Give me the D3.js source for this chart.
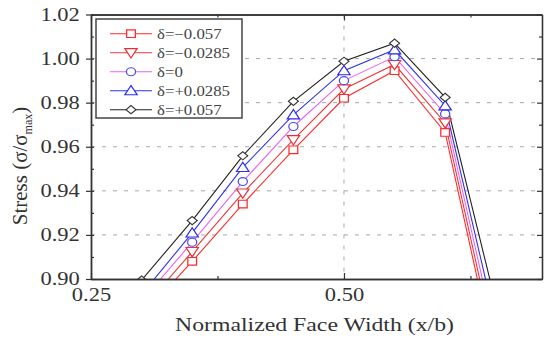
<!DOCTYPE html>
<html>
<head>
<meta charset="utf-8">
<script src="https://cdn.jsdelivr.net/npm/d3@7"></script>
<style>
  html, body { margin: 0; padding: 0; background: #fff; }
  svg { display: block; font-family: "Liberation Serif", "Times New Roman", serif; }
</style>
</head>
<body>
<div id="chart"></div>
<script>
// data
const xValues = [0.30, 0.35, 0.40, 0.45, 0.50, 0.55, 0.60, 0.65];
const deltaLabels = ["δ=−0.057", "δ=−0.0285", "δ=0", "δ=+0.0285", "δ=+0.057"];
const stressMinus057 = [0.883, 0.908, 0.934, 0.9586, 0.982, 0.9945, 0.9665, 0.862];
const stressMinus0285 = [0.886, 0.9124, 0.939, 0.9632, 0.9862, 0.9973, 0.9708, 0.867];
const stressZero = [0.890, 0.9167, 0.9442, 0.9692, 0.990, 1.0008, 0.9749, 0.873];
const stressPlus0285 = [0.893, 0.9209, 0.9506, 0.9745, 0.9945, 1.004, 0.9786, 0.880];
const stressPlus057 = [0.8995, 0.9265, 0.9559, 0.9806, 0.9988, 1.007, 0.9824, 0.889];
const yTicks = [0.90, 0.92, 0.94, 0.96, 0.98, 1.00, 1.02];
const yMinorTicks = [0.91, 0.93, 0.95, 0.97, 0.99, 1.01];
const xTicks = [0.25, 0.50];
const xMinorTicks = [0.375, 0.625];

const W = 544, H = 341;
const PLOT = { left: 91, right: 542, top: 14.5, bottom: 279 };
const SX = 1.25; // the source picture is stretched sideways

const seriesStyle = [
  { values: stressMinus057, line: "#ff2a2a", mark: "#ff2a2a", shape: "square", size: 58 },
  { values: stressMinus0285, line: "#e8383c", mark: "#e83038", shape: "down", size: 50 },
  { values: stressZero, line: "#f060f0", mark: "#4b4bf0", shape: "circle", size: 50 },
  { values: stressPlus0285, line: "#3030f0", mark: "#2a2af0", shape: "up", size: 50 },
  { values: stressPlus057, line: "#222222", mark: "#333333", shape: "diamond", size: 40 },
];

const svg = d3.select("#chart").append("svg").attr("width", W).attr("height", H);

const x = d3.scaleLinear().domain([0.25, 0.6957]).range([PLOT.left, PLOT.right]);
const y = d3.scaleLinear().domain([0.90, 1.02]).range([PLOT.bottom, PLOT.top]);

function symbolPath(shape, size) {
  if (shape === "up" || shape === "down") return d3.symbol(d3.symbolTriangle, size)();
  if (shape === "circle") return d3.symbol(d3.symbolCircle, size)();
  return d3.symbol(d3.symbolSquare, size)();
}

function markerTransform(shape, cx, cy) {
  if (shape === "diamond") return `translate(${cx},${cy}) scale(1.12,0.92) rotate(45)`;
  if (shape === "down") return `translate(${cx},${cy - 1}) scale(1.15,1) rotate(180)`;
  if (shape === "up") return `translate(${cx},${cy + 1}) scale(1.15,1)`;
  return `translate(${cx},${cy}) scale(1.15,1)`;
}

// grid
svg.append("g")
  .selectAll("line.hgrid")
  .data(yTicks.slice(1, -1))
  .join("line")
  .attr("x1", PLOT.left).attr("x2", PLOT.right)
  .attr("y1", (d) => y(d)).attr("y2", (d) => y(d))
  .attr("stroke", "#a8a8a8").attr("stroke-width", 1).attr("stroke-dasharray", "4 7");

svg.append("line")
  .attr("x1", x(0.5)).attr("x2", x(0.5))
  .attr("y1", PLOT.top).attr("y2", PLOT.bottom)
  .attr("stroke", "#a8a8a8").attr("stroke-width", 1).attr("stroke-dasharray", "4 7");

// data
svg.append("defs").append("clipPath").attr("id", "plot-clip")
  .append("rect")
  .attr("x", PLOT.left).attr("y", PLOT.top)
  .attr("width", PLOT.right - PLOT.left).attr("height", PLOT.bottom - PLOT.top);

const dataLayer = svg.append("g").attr("clip-path", "url(#plot-clip)");
const line = d3.line().x((d) => x(d[0])).y((d) => y(d[1]));

seriesStyle.forEach((s) => {
  const pts = xValues.map((xv, i) => [xv, s.values[i]]);
  dataLayer.append("path")
    .datum(pts)
    .attr("fill", "none")
    .attr("stroke", s.line)
    .attr("stroke-width", 1.1)
    .attr("d", line);
});

seriesStyle.forEach((s) => {
  const pts = xValues.map((xv, i) => [xv, s.values[i]]);
  dataLayer.append("g")
    .selectAll("path")
    .data(pts)
    .join("path")
    .attr("d", symbolPath(s.shape, s.size))
    .attr("transform", (d) => markerTransform(s.shape, x(d[0]), y(d[1])))
    .attr("fill", "#fff")
    .attr("stroke", s.mark)
    .attr("stroke-width", 1.1);
});

// axes
function styleAxis(g) {
  g.select(".domain").attr("stroke", "#333").attr("stroke-width", 1.3);
  g.selectAll(".tick line").attr("stroke", "#333").attr("stroke-width", 1.2);
}

const leftAxis = svg.append("g")
  .attr("transform", `translate(${PLOT.left},0)`)
  .call(d3.axisLeft(y).tickValues(yTicks).tickSize(5).tickSizeOuter(0).tickPadding(4).tickFormat(d3.format(".2f")))
  .call(styleAxis);
leftAxis.selectAll("text")
  .attr("font-size", 18)
  .attr("fill", "#333")
  .attr("font-family", "Liberation Serif, Times New Roman, serif")
  .attr("transform", `scale(${SX},1)`);

svg.append("g")
  .attr("transform", `translate(${PLOT.left},0)`)
  .call(d3.axisLeft(y).tickValues(yTicks).tickSize(-3).tickSizeOuter(0).tickFormat(""))
  .call(styleAxis);
svg.append("g")
  .attr("transform", `translate(${PLOT.left},0)`)
  .call(d3.axisLeft(y).tickValues(yMinorTicks).tickSize(-3).tickSizeOuter(0).tickFormat(""))
  .call(styleAxis);

svg.append("g")
  .attr("transform", `translate(${PLOT.right},0)`)
  .call(d3.axisRight(y).tickValues(yTicks).tickSize(-5).tickSizeOuter(0).tickFormat(""))
  .call(styleAxis);
svg.append("g")
  .attr("transform", `translate(${PLOT.right},0)`)
  .call(d3.axisRight(y).tickValues(yMinorTicks).tickSize(-3).tickSizeOuter(0).tickFormat(""))
  .call(styleAxis);

const bottomAxis = svg.append("g")
  .attr("transform", `translate(0,${PLOT.bottom})`)
  .call(d3.axisBottom(x).tickValues(xTicks).tickSize(-6).tickSizeOuter(0).tickPadding(9).tickFormat(d3.format(".2f")))
  .call(styleAxis);
bottomAxis.selectAll("text")
  .attr("font-size", 18)
  .attr("fill", "#333")
  .attr("font-family", "Liberation Serif, Times New Roman, serif")
  .attr("transform", `scale(${SX},1)`);
svg.append("g")
  .attr("transform", `translate(0,${PLOT.bottom})`)
  .call(d3.axisBottom(x).tickValues(xMinorTicks).tickSize(-3).tickSizeOuter(0).tickFormat(""))
  .call(styleAxis);

svg.append("g")
  .attr("transform", `translate(0,${PLOT.top})`)
  .call(d3.axisTop(x).tickValues(xTicks).tickSize(-6).tickSizeOuter(0).tickFormat(""))
  .call(styleAxis);
svg.append("g")
  .attr("transform", `translate(0,${PLOT.top})`)
  .call(d3.axisTop(x).tickValues(xMinorTicks).tickSize(-3).tickSizeOuter(0).tickFormat(""))
  .call(styleAxis);

// axis titles
svg.append("text")
  .attr("transform", `translate(${(PLOT.left + PLOT.right) / 2 - 2},331) scale(${SX},1)`)
  .attr("text-anchor", "middle")
  .attr("font-size", 19)
  .attr("fill", "#333")
  .text("Normalized Face Width (x/b)");

const yTitle = svg.append("text")
  .attr("transform", "translate(27,166) rotate(-90)")
  .attr("text-anchor", "middle")
  .attr("font-size", 21)
  .attr("fill", "#333");
yTitle.append("tspan").text("Stress (σ/σ");
yTitle.append("tspan").attr("font-size", 12).attr("dy", 5).text("max");
yTitle.append("tspan").attr("dy", -5).text(")");

// legend
const legend = svg.append("g");
legend.append("rect")
  .attr("x", 96).attr("y", 19).attr("width", 146).attr("height", 99)
  .attr("fill", "#fff").attr("stroke", "#444").attr("stroke-width", 1.5);

seriesStyle.forEach((s, i) => {
  const ly = 33.7 + i * 19;
  const row = legend.append("g");
  row.append("line")
    .attr("x1", 110).attr("x2", 152).attr("y1", ly).attr("y2", ly)
    .attr("stroke", s.line).attr("stroke-width", 1.1);
  row.append("path")
    .attr("d", symbolPath(s.shape, s.size))
    .attr("transform", markerTransform(s.shape, 131, ly))
    .attr("fill", "#fff").attr("stroke", s.mark).attr("stroke-width", 1.1);
  row.append("text")
    .attr("transform", `translate(157,${ly + 5}) scale(1.2,1)`)
    .attr("font-size", 14)
    .attr("fill", "#444")
    .text(deltaLabels[i]);
});
</script>
</body>
</html>
